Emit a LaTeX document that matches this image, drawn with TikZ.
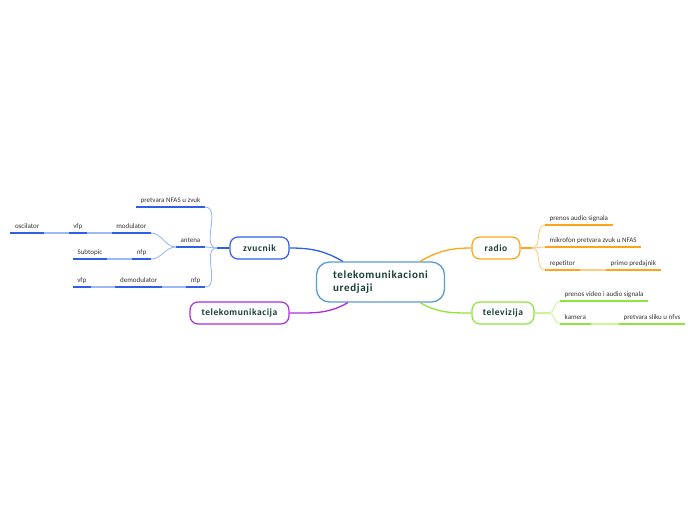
\documentclass[tikz,border=0pt]{standalone}
\usepackage{fontspec}
\setmainfont{Carlito}
\usetikzlibrary{positioning,calc}
\definecolor{centralc}{HTML}{5B9BD5}
\definecolor{zblue}{HTML}{2F5FE6}
\definecolor{zlight}{HTML}{9DB8F6}
\definecolor{tpurple}{HTML}{B12CE0}
\definecolor{rorange}{HTML}{FFA31A}
\definecolor{rlight}{HTML}{FFCB80}
\definecolor{tgreen}{HTML}{8EE63A}
\definecolor{glight}{HTML}{C8F59A}
\definecolor{topictext}{HTML}{163F36}
\definecolor{subtext}{HTML}{333333}

\begin{document}
\begin{tikzpicture}[x=1pt, y=-1pt,
  topic/.style={draw, rounded corners=8pt, line width=1.2pt, fill=white, minimum height=22pt, inner sep=0pt, text=topictext,
    font=\bfseries\fontsize{9.5}{11}\selectfont\addfontfeatures{LetterSpace=6}},
  sub/.style={inner xsep=4.5pt, inner ysep=3pt, text height=5pt, text depth=1.5pt, text=subtext, font=\fontsize{7}{8}\selectfont},
  main/.style={line width=1.3pt},
  uline/.style={line width=1.6pt},
  link/.style={line width=1.6pt},
  curve/.style={line width=0.9pt}]
  \useasboundingbox (0,0) rectangle (696,520);

  % central topic and main topics
  \node[topic, draw=centralc, line width=1.3pt, rounded corners=13pt, minimum width=128pt, minimum height=40pt, align=left,
    font=\bfseries\fontsize{11}{13}\selectfont\addfontfeatures{LetterSpace=6}] (uredjaji) at (380.5,282) {telekomunikacioni\\uredjaji};
  \node[topic, draw=zblue, minimum width=59pt] (zvucnik) at (259.5,248) {zvucnik};
  \node[topic, draw=tpurple, minimum width=99pt] (telekom) at (239.5,313) {telekomunikacija};
  \node[topic, draw=rorange, minimum width=48pt] (radio) at (496,248) {radio};
  \node[topic, draw=tgreen, minimum width=62pt] (televizija) at (503,313) {televizija};

  \draw[main, zblue] ([xshift=27pt]uredjaji.north west) to[out=150, in=0] (zvucnik.east);
  \draw[main, tpurple] ([xshift=32pt]uredjaji.south west) to[out=210, in=0] (telekom.east);
  \draw[main, rorange] ([xshift=-25pt]uredjaji.north east) to[out=30, in=180] (radio.west);
  \draw[main, tgreen] ([xshift=-25pt]uredjaji.south east) to[out=-30, in=180] (televizija.west);

  % zvucnik
  \node[sub, anchor=south east] (nfas) at (205,207) {pretvara NFAS u zvuk};
  \node[sub, anchor=south east] (antena) at (205,247) {antena};
  \node[sub, anchor=south east] (nfp) at (205,287) {nfp};
  \node[sub, anchor=south east] (modulator) at (151,233) {modulator};
  \node[sub, anchor=south east] (nfpb) at (151,259) {nfp};
  \node[sub, anchor=south east] (vfp) at (87,233) {vfp};
  \node[sub, anchor=south east] (oscilator) at (44,233) {oscilator};
  \node[sub, anchor=south east] (subtopic) at (107,259) {Subtopic};
  \node[sub, anchor=south east] (demodulator) at (162,287) {demodulator};
  \node[sub, anchor=south east] (vfpb) at (91,287) {vfp};
  \coordinate (zbranch) at (217,248);
  \draw[uline, zblue] (zvucnik.west) -- (zbranch);
  \foreach \n in {nfas,antena,nfp}
    \draw[curve, zlight] (zbranch) to[out=180, in=0] (\n.south east);
  \foreach \n in {modulator,nfpb}
    \draw[curve, zlight] (antena.south west) to[out=180, in=0] (\n.south east);
  \draw[link, zlight] (modulator.south west) -- (vfp.south east);
  \draw[link, zlight] (vfp.south west) -- (oscilator.south east);
  \draw[link, zlight] (nfpb.south west) -- (subtopic.south east);
  \draw[link, zlight] (nfp.south west) -- (demodulator.south east);
  \draw[link, zlight] (demodulator.south west) -- (vfpb.south east);
  \foreach \n in {nfas,antena,nfp,modulator,nfpb,vfp,oscilator,subtopic,demodulator,vfpb}
    \draw[uline, zblue] (\n.south west) -- (\n.south east);

  % radio
  \node[sub, anchor=south west] (audio) at (545,225) {prenos audio signala};
  \node[sub, anchor=south west] (mikrofon) at (545,247) {mikrofon pretvara zvuk u NFAS};
  \node[sub, anchor=south west] (repetitor) at (545,270) {repetitor};
  \node[sub, anchor=south west] (predajnik) at (606,270) {primo predajnik};
  \coordinate (rbranch) at (532,248);
  \draw[uline, rorange] (radio.east) -- (rbranch);
  \foreach \n in {audio,mikrofon,repetitor}
    \draw[curve, rlight] (rbranch) to[out=0, in=180] (\n.south west);
  \draw[link, rlight] (repetitor.south east) -- (predajnik.south west);
  \foreach \n in {audio,mikrofon,repetitor,predajnik}
    \draw[uline, rorange] (\n.south west) -- (\n.south east);

  % televizija
  \node[sub, anchor=south west] (video) at (560,301) {prenos video i audio signala};
  \node[sub, anchor=south west] (kamera) at (560,324) {kamera};
  \node[sub, anchor=south west] (slika) at (619,324) {pretvara sliku u nfvs};
  \coordinate (tbranch) at (549,313);
  \draw[uline, glight] (televizija.east) -- (tbranch);
  \foreach \n in {video,kamera}
    \draw[curve, glight] (tbranch) to[out=0, in=180] (\n.south west);
  \draw[link, glight] (kamera.south east) -- (slika.south west);
  \foreach \n in {video,kamera,slika}
    \draw[uline, tgreen] (\n.south west) -- (\n.south east);
\end{tikzpicture}
\end{document}
